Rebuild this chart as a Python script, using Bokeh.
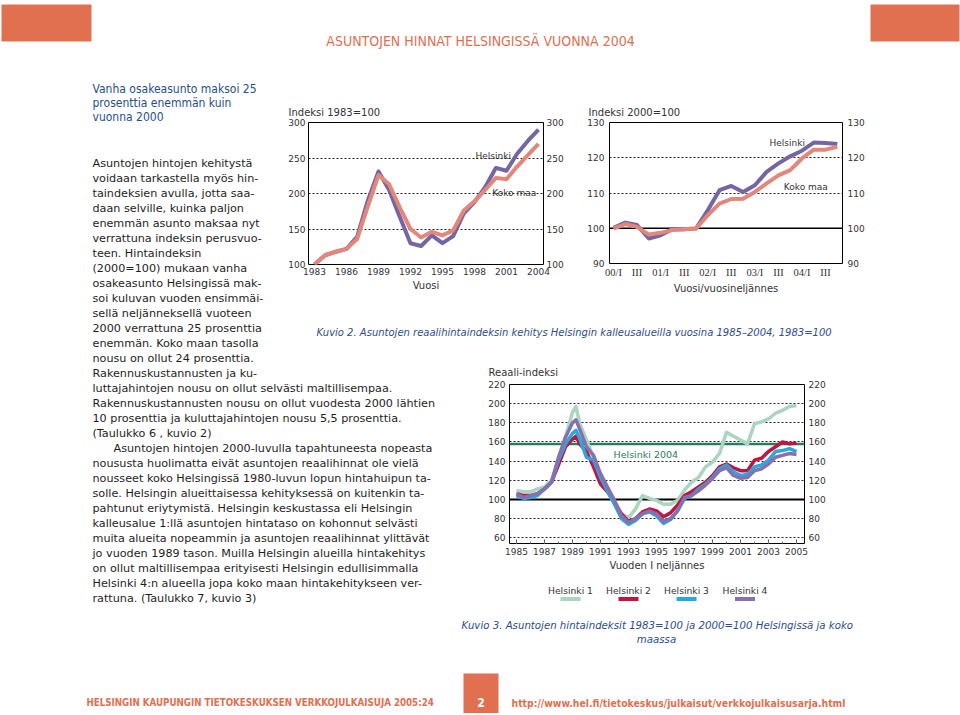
from bokeh.plotting import figure
from bokeh.models import Range1d, LinearAxis, FixedTicker, Span, GridBox, Label
from bokeh.core.properties import value
from bokeh.embed import file_html
from bokeh.resources import INLINE

# ---------------- data ----------------
# Kuvio (left): Indeksi 1983=100, annual
years_83 = [1983, 1984, 1985, 1986, 1987, 1988, 1989, 1990, 1991, 1992, 1993,
            1994, 1995, 1996, 1997, 1998, 1999, 2000, 2001, 2002, 2003, 2004]
helsinki_83 = [100, 113, 118, 122, 139, 190, 231, 205, 167, 130, 126,
               141, 130, 140, 172, 188, 209, 236, 232, 256, 274, 290]
kokomaa_83 = [100, 113, 118, 122, 136, 182, 226, 213, 180, 150, 138,
              146, 141, 148, 176, 189, 205, 222, 220, 238, 254, 270]
ticks_83 = [1983, 1986, 1989, 1992, 1995, 1998, 2001, 2004]

# Kuvio (right): Indeksi 2000=100, quarterly 00/I .. 04/IV
quarter_idx = list(range(20))
helsinki_00 = [100.1, 101.6, 100.9, 97.1, 98.0, 99.7, 99.7, 99.9, 105.1, 110.8,
               112.0, 110.3, 112.2, 116.0, 118.4, 120.4, 122.0, 124.3, 124.2, 123.9]
kokomaa_00 = [99.9, 101.2, 100.4, 98.2, 98.7, 99.5, 99.7, 99.9, 103.7, 107.0,
              108.3, 108.4, 110.3, 112.7, 115.0, 116.5, 119.8, 122.3, 122.3, 123.1]
quarter_tick_pos = [0, 2, 4, 6, 8, 10, 12, 14, 16, 18]
quarter_tick_lab = ["00/I", "III", "01/I", "III", "02/I", "III", "03/I", "III", "04/I", "III"]

# Kuvio 3: Reaali-indeksi by area (Helsinki 1-4)
t_real = [1985.0, 1985.5, 1986.0, 1986.5, 1987.0, 1987.5, 1988.0, 1988.5, 1989.0, 1989.25,
          1989.5, 1990.0, 1990.5, 1991.0, 1991.5, 1992.0, 1992.5, 1993.0, 1993.5, 1994.0,
          1994.5, 1995.0, 1995.5, 1996.0, 1996.5, 1997.0, 1997.5, 1998.0, 1998.5, 1999.0,
          1999.5, 2000.0, 2000.5, 2001.0, 2001.5, 2002.0, 2002.5, 2003.0, 2003.5, 2004.0,
          2004.5, 2005.0]
helsinki1 = [109, 108, 108, 111, 113, 120, 141, 165, 191, 197,
             180, 162, 144, 123, 109, 95, 85, 81, 90, 104,
             101, 99, 95, 95, 99, 110, 118, 123, 134, 139,
             148, 170, 166, 162, 158, 179, 181, 184, 190, 193,
             197, 198]
helsinki2 = [106, 104, 104, 106, 111, 118, 136, 155, 163, 166,
             158, 150, 134, 116, 108, 97, 85, 77, 80, 87,
             90, 88, 82, 86, 94, 104, 108, 113, 118, 125,
             134, 137, 133, 130, 130, 141, 143, 150, 155, 160,
             158, 159]
helsinki3 = [104, 101, 102, 104, 111, 118, 141, 158, 169, 172,
             164, 144, 141, 123, 109, 95, 80, 74, 78, 85,
             87, 83, 75, 79, 88, 101, 104, 111, 116, 123,
             132, 136, 129, 125, 126, 134, 136, 141, 150, 151,
             153, 150]
helsinki4 = [106, 102, 104, 106, 111, 118, 144, 165, 180, 183,
             174, 155, 146, 127, 113, 99, 83, 76, 80, 85,
             88, 85, 77, 80, 88, 102, 104, 109, 115, 122,
             130, 133, 125, 122, 123, 130, 132, 137, 144, 146,
             148, 147]
helsinki_2004_level = 158
real_ticks_x = [1985, 1987, 1989, 1991, 1993, 1995, 1997, 1999, 2001, 2003, 2005]
real_ticks_y = [60, 80, 100, 120, 140, 160, 180, 200, 220]
legend_names = ["Helsinki 1", "Helsinki 2", "Helsinki 3", "Helsinki 4"]

# ---------------- styles ----------------
PURPLE = "#7566a3"
PINK = "#e3877a"
C_H1, C_H2, C_H3, C_H4 = "#a9d5c1", "#c3143f", "#28a8e0", "#8571ad"
GREEN = "#2b7d5c"
ORANGE = "#e07050"
CAP_BLUE = "#2c4d8e"
HEAD_BLUE = "#1e4f8f"
TXT = "#1e1e1e"
TICK = "#333333"
SANS = "DejaVu Sans"
NARROW = "DejaVu Sans Condensed, Roboto Condensed, Noto Sans Condensed, Roboto, sans-serif"

# ---------------- page canvas (page pixel coordinates) ----------------
canvas = figure(width=960, height=713, x_range=Range1d(0, 960), y_range=Range1d(713, 0),
                output_backend="svg", toolbar_location=None, x_axis_type=None, y_axis_type=None,
                min_border_left=0, min_border_right=0, min_border_top=0, min_border_bottom=0,
                frame_align=False)
canvas.grid.visible = False
canvas.outline_line_color = None
canvas.background_fill_color = "white"
canvas.border_fill_color = "white"


def txt(xs, ys, texts, font=SANS, size="11.2px", color=TXT, style="normal",
        align="left", baseline="alphabetic"):
    canvas.text(x=xs, y=ys, text=texts, text_font=value(font), text_font_size=value(size),
                text_color=color, text_font_style=style, text_align=align,
                text_baseline=baseline)


# header
canvas.quad(left=[1, 870], right=[91, 959], top=[4, 4], bottom=[41, 41],
            fill_color=ORANGE, line_color=None)
txt([480], [40.5], ["ASUNTOJEN HINNAT HELSINGISSÄ VUONNA 2004"], font=NARROW,
    size="14px", color=ORANGE, align="center")

# heading
txt([92, 92, 92], [88.5, 102.5, 116.5],
    ["Vanha osakeasunto maksoi 25", "prosenttia enemmän kuin", "vuonna 2000"],
    font=NARROW, size="12px", color=HEAD_BLUE)

# body text
body = [
    "Asuntojen hintojen kehitystä",
    "voidaan tarkastella myös hin-",
    "taindeksien avulla, jotta saa-",
    "daan selville, kuinka paljon",
    "enemmän asunto maksaa nyt",
    "verrattuna indeksin perusvuo-",
    "teen. Hintaindeksin",
    "(2000=100) mukaan vanha",
    "osakeasunto Helsingissä mak-",
    "soi kuluvan vuoden ensimmäi-",
    "sellä neljänneksellä vuoteen",
    "2000 verrattuna 25 prosenttia",
    "enemmän.  Koko maan tasolla",
    "nousu on ollut 24 prosenttia.",
    "Rakennuskustannusten ja ku-",
    "luttajahintojen nousu on ollut selvästi maltillisempaa.",
    "Rakennuskustannusten nousu on ollut vuodesta 2000 lähtien",
    "10 prosenttia ja kuluttajahintojen nousu 5,5 prosenttia.",
    "(Taulukko 6 , kuvio 2)",
    "Asuntojen hintojen 2000-luvulla tapahtuneesta nopeasta",
    "noususta huolimatta eivät asuntojen reaalihinnat ole vielä",
    "nousseet koko Helsingissä 1980-luvun lopun hintahuipun ta-",
    "solle. Helsingin alueittaisessa kehityksessä on kuitenkin ta-",
    "pahtunut eriytymistä. Helsingin keskustassa eli Helsingin",
    "kalleusalue 1:llä asuntojen hintataso on kohonnut selvästi",
    "muita alueita nopeammin ja asuntojen reaalihinnat ylittävät",
    "jo vuoden 1989 tason. Muilla Helsingin alueilla hintakehitys",
    "on ollut maltillisempaa erityisesti Helsingin edullisimmalla",
    "Helsinki 4:n alueella jopa koko maan hintakehitykseen ver-",
    "rattuna. (Taulukko 7, kuvio 3)",
]
bx = [113 if i == 19 else 92 for i in range(len(body))]
by = [162.7 + 15 * i for i in range(len(body))]
txt(bx, by, body)

# chart titles
txt([288, 588, 488], [111.5, 111.5, 371.5],
    ["Indeksi 1983=100", "Indeksi 2000=100", "Reaali-indeksi"], size="10px", color=TICK)

# captions
txt([316], [332], ["Kuvio 2.  Asuntojen reaalihintaindeksin kehitys Helsingin kalleusalueilla vuosina 1985–2004, 1983=100"],
    size="10px", color=CAP_BLUE, style="italic")
txt([461], [625], ["Kuvio 3.  Asuntojen hintaindeksit 1983=100 ja 2000=100 Helsingissä ja koko"],
    size="10.2px", color=CAP_BLUE, style="italic")
txt([656], [639], ["maassa"], size="10.2px", color=CAP_BLUE, style="italic", align="center")

# legend of Kuvio 3
leg_cx = [570, 628, 686, 744.5]
txt(leg_cx, [589.5] * 4, legend_names, size="9.2px", color=TICK, align="center")
canvas.segment(x0=[c - 10 for c in leg_cx], x1=[c + 10 for c in leg_cx], y0=[598.5] * 4, y1=[598.5] * 4,
               line_color=[C_H1, C_H2, C_H3, C_H4], line_width=4)

# footer
canvas.quad(left=[463], right=[498], top=[673], bottom=[713], fill_color=ORANGE, line_color=None)
txt([480.5], [702], ["2"], font=NARROW, size="12px", color="white", style="bold", align="center")
txt([86], [702], ["HELSINGIN KAUPUNGIN TIETOKESKUKSEN VERKKOJULKAISUJA 2005:24"],
    font=NARROW, size="9.7px", color=ORANGE, style="bold")
txt([511], [702], ["http://www.hel.fi/tietokeskus/julkaisut/verkkojulkaisusarja.html"],
    font=NARROW, size="10.35px", color=ORANGE, style="bold")


# ---------------- charts ----------------
def chart(fw, fh, xr, yr, left=40, right=40, top=6, bottom=36):
    f = figure(width=fw + left + right, height=fh + top + bottom,
               x_range=Range1d(*xr), y_range=Range1d(*yr),
               output_backend="svg", toolbar_location=None, frame_align=False,
               min_border_left=left, min_border_right=right,
               min_border_top=top, min_border_bottom=bottom)
    f.border_fill_alpha = 0
    f.background_fill_color = "white"
    f.outline_line_color = "black"
    f.outline_line_width = 1
    f.xgrid.visible = False
    f.ygrid.grid_line_color = "#222222"
    f.ygrid.grid_line_dash = "2 2"
    f.ygrid.grid_line_width = 1
    return f


def style_axis(ax, standoff=4, font=SANS, size="9px"):
    ax.axis_line_color = None
    ax.major_tick_in = 0
    ax.major_tick_out = 0
    ax.minor_tick_in = 0
    ax.minor_tick_out = 0
    ax.major_label_standoff = standoff
    ax.major_label_text_font = font
    ax.major_label_text_font_size = size
    ax.major_label_text_color = TICK
    ax.axis_label_text_font = SANS
    ax.axis_label_text_font_size = "10px"
    ax.axis_label_text_font_style = "normal"
    ax.axis_label_text_color = TICK
    ax.axis_label_standoff = 2


def note(f, x, y, text, color=TICK, size="9px"):
    f.add_layout(Label(x=x, y=y, text=text, text_font=SANS, text_font_size=size,
                       text_color=color, text_baseline="alphabetic", text_align="left"))


# Chart 1
c1 = chart(235, 142, (1982.44, 2004.47), (100, 300))
c1.xaxis.ticker = FixedTicker(ticks=ticks_83)
c1.yaxis.ticker = FixedTicker(ticks=[100, 150, 200, 250, 300])
c1.ygrid.ticker = FixedTicker(ticks=[150, 200, 250])
c1.add_layout(LinearAxis(ticker=FixedTicker(ticks=[100, 150, 200, 250, 300])), "right")
c1.xaxis.axis_label = "Vuosi"
for ax in c1.xaxis + c1.yaxis:
    style_axis(ax, standoff=3)
c1.line(years_83, helsinki_83, line_color=PURPLE, line_width=4, line_join="round")
c1.line(years_83, kokomaa_83, line_color=PINK, line_width=4, line_join="round")
note(c1, 1998.1, 253.5, "Helsinki")
note(c1, 1999.66, 200.7, "Koko maa")
c1.margin = (116, 0, 0, 268)

# Chart 2
c2 = chart(233, 141, (-0.34, 19.44), (90, 130))
c2.xaxis.ticker = FixedTicker(ticks=quarter_tick_pos)
c2.xaxis.major_label_overrides = {p: l for p, l in zip(quarter_tick_pos, quarter_tick_lab)}
c2.yaxis.ticker = FixedTicker(ticks=[90, 100, 110, 120, 130])
c2.ygrid.ticker = FixedTicker(ticks=[110, 120])
c2.add_layout(LinearAxis(ticker=FixedTicker(ticks=[90, 100, 110, 120, 130])), "right")
c2.xaxis.axis_label = "Vuosi/vuosineljännes"
for ax in c2.yaxis:
    style_axis(ax, standoff=5)
for ax in c2.xaxis:
    style_axis(ax, standoff=3, font="Liberation Serif", size="10.5px")
c2.add_layout(Span(location=100, dimension="width", line_color="black", line_width=1.5, level="underlay"))
c2.line(quarter_idx, helsinki_00, line_color=PURPLE, line_width=4, line_join="round")
c2.line(quarter_idx, kokomaa_00, line_color=PINK, line_width=4, line_join="round")
note(c2, 13.24, 124.2, "Helsinki")
note(c2, 14.46, 111.7, "Koko maa")
c2.margin = (116, 0, 0, 569)

# Chart 3
c3 = chart(295, 159, (1984.5, 2005.57), (54, 220))
c3.xaxis.ticker = FixedTicker(ticks=real_ticks_x, minor_ticks=list(range(1985, 2006)))
c3.yaxis.ticker = FixedTicker(ticks=real_ticks_y)
c3.ygrid.ticker = FixedTicker(ticks=[60, 80, 120, 140, 160, 180, 200])
c3.add_layout(LinearAxis(ticker=FixedTicker(ticks=real_ticks_y)), "right")
c3.xaxis.axis_label = "Vuoden I neljännes"
for ax in c3.xaxis + c3.yaxis:
    style_axis(ax, standoff=4)
c3.xaxis.major_tick_in = 4
c3.xaxis.minor_tick_in = 2
c3.xaxis.major_tick_line_color = "#555555"
c3.xaxis.minor_tick_line_color = "#777777"
c3.add_layout(Span(location=100, dimension="width", line_color="black", line_width=2, level="underlay"))
c3.add_layout(Span(location=helsinki_2004_level, dimension="width", line_color=GREEN,
                   line_width=2.5, level="underlay"))
note(c3, 1991.93, 147.4, "Helsinki 2004", color=GREEN, size="9.5px")
for series, col in zip([helsinki1, helsinki2, helsinki3, helsinki4], [C_H1, C_H2, C_H3, C_H4]):
    c3.line(t_real, series, line_color=col, line_width=3.5, line_join="round")
c3.margin = (378, 0, 0, 469)

page = GridBox(children=[(canvas, 0, 0), (c1, 0, 0), (c2, 0, 0), (c3, 0, 0)])

with open("out.html", "w") as fh:
    fh.write(file_html(page, INLINE, title="Asuntojen hinnat Helsingissä vuonna 2004"))
